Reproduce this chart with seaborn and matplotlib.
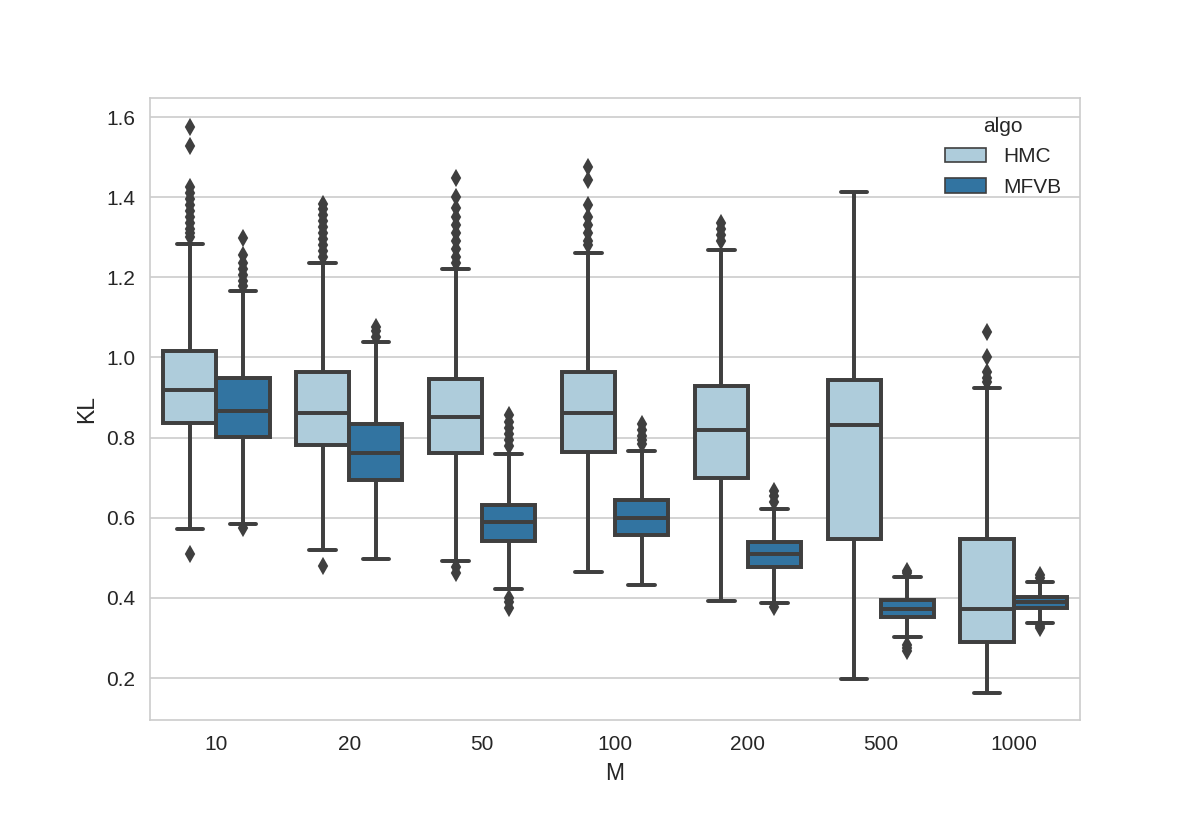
import numpy as np
import pandas as pd
import matplotlib
matplotlib.use("Agg")
import matplotlib.pyplot as plt
import seaborn as sns

# categories
M_labels = ["10", "20", "50", "100", "200", "500", "1000"]
algos = ["HMC", "MFVB"]

# box summaries (whisker ends, quartiles, median)
hmc_lo = [0.572, 0.519, 0.492, 0.465, 0.392, 0.197, 0.162]
hmc_q1 = [0.836, 0.781, 0.761, 0.764, 0.699, 0.547, 0.290]
hmc_med = [0.919, 0.861, 0.851, 0.861, 0.819, 0.831, 0.372]
hmc_q3 = [1.016, 0.964, 0.946, 0.964, 0.929, 0.944, 0.547]
hmc_hi = [1.284, 1.236, 1.221, 1.261, 1.268, 1.413, 0.924]
hmc_out = [
    [1.575, 1.527, 1.425, 1.41, 1.395, 1.38, 1.365, 1.35, 1.335, 1.32, 1.31, 1.30, 0.509],
    [1.383, 1.37, 1.355, 1.34, 1.325, 1.31, 1.295, 1.28, 1.265, 1.25, 0.479],
    [1.447, 1.40, 1.373, 1.35, 1.33, 1.31, 1.29, 1.27, 1.25, 1.235, 0.477, 0.462],
    [1.475, 1.443, 1.38, 1.35, 1.33, 1.31, 1.29, 1.28],
    [1.335, 1.32, 1.305, 1.29],
    [],
    [1.063, 1.001, 0.965, 0.95, 0.94],
]

mfvb_lo = [0.584, 0.497, 0.422, 0.432, 0.387, 0.302, 0.338]
mfvb_q1 = [0.801, 0.694, 0.542, 0.557, 0.477, 0.352, 0.376]
mfvb_med = [0.866, 0.761, 0.589, 0.600, 0.509, 0.372, 0.390]
mfvb_q3 = [0.949, 0.834, 0.632, 0.644, 0.539, 0.395, 0.403]
mfvb_hi = [1.166, 1.038, 0.759, 0.767, 0.622, 0.452, 0.440]
mfvb_out = [
    [1.298, 1.256, 1.236, 1.22, 1.205, 1.19, 1.178, 0.575],
    [1.076, 1.065, 1.05],
    [0.856, 0.84, 0.825, 0.81, 0.795, 0.78, 0.40, 0.39, 0.375],
    [0.835, 0.82, 0.805, 0.795, 0.785],
    [0.668, 0.655, 0.64, 0.378],
    [0.468, 0.462, 0.283, 0.275, 0.268],
    [0.458, 0.45, 0.330, 0.325],
]

# rebuild a sample per box whose quartiles/whiskers reproduce the summaries
rows = []
for algo, lo, q1, med, q3, hi, out in [
    ("HMC", hmc_lo, hmc_q1, hmc_med, hmc_q3, hmc_hi, hmc_out),
    ("MFVB", mfvb_lo, mfvb_q1, mfvb_med, mfvb_q3, mfvb_hi, mfvb_out),
]:
    for i, m in enumerate(M_labels):
        vals = [lo[i]] + [q1[i]] * 50 + [med[i]] * 50 + [q3[i]] * 50 + [hi[i]] + out[i]
        rows += [{"M": m, "algo": algo, "KL": v} for v in vals]
df = pd.DataFrame(rows)

sns.set_style("whitegrid")
plt.rcParams["font.family"] = ["Liberation Sans", "DejaVu Sans"]

fig = plt.figure(figsize=(8, 5.5), dpi=150)
ax = fig.add_subplot(111)
fig.subplots_adjust(left=0.125, right=0.9, top=0.881, bottom=0.127)

sns.boxplot(
    data=df, x="M", y="KL", hue="algo", order=M_labels, hue_order=algos,
    palette="Paired", saturation=0.75, linecolor="#3f3f3f", linewidth=1.9,
    flierprops=dict(marker="d", markersize=5, markerfacecolor="#3f3f3f",
                    markeredgecolor="#3f3f3f"),
    ax=ax,
)

ax.set_ylim(0.095, 1.647)
ax.set_xlabel("M", fontsize=11)
ax.set_ylabel("KL", fontsize=11)
ax.tick_params(labelsize=10)
sns.move_legend(ax, "upper right", frameon=False, title="algo", fontsize=10,
                title_fontsize=10, labelspacing=0.55)
for h in ax.get_legend().legend_handles:
    h.set_linewidth(0.8)

fig.savefig("out.png", dpi=150)
